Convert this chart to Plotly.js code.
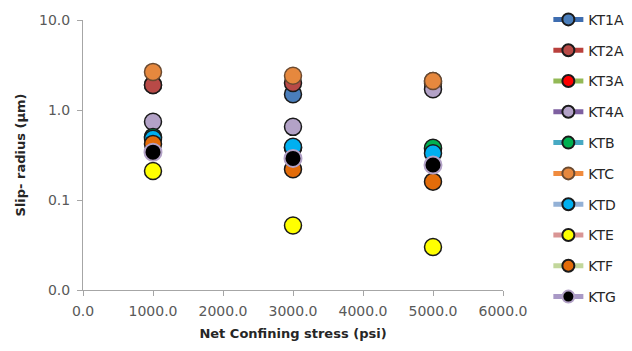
<!DOCTYPE html>
<html>
<head>
<meta charset="utf-8">
<script src="https://cdn.plot.ly/plotly-3.0.1.min.js"></script>
<style>
  html, body { margin: 0; padding: 0; background: #fff; }
  #chart { width: 632px; height: 351px; }
</style>
</head>
<body>
<div id="chart"></div>
<script>
// Net confining stress levels (psi)
const stress = [1000, 3000, 5000];

// Slip radius (µm) per sample at each stress level
const KT1A = [1.9, 1.5, 2.0];
const KT2A = [1.9, 2.0, 2.1];
const KT3A = [0.5, 0.38, 0.37];
const KT4A = [0.74, 0.65, 1.7];
const KTB  = [0.5, 0.38, 0.38];
const KTC  = [2.65, 2.4, 2.1];
const KTD  = [0.48, 0.39, 0.33];
const KTE  = [0.21, 0.052, 0.030];
const KTF  = [0.42, 0.22, 0.16];
const KTG  = [0.34, 0.29, 0.245];

const names = ['KT1A','KT2A','KT3A','KT4A','KTB','KTC','KTD','KTE','KTF','KTG'];
const values = [KT1A, KT2A, KT3A, KT4A, KTB, KTC, KTD, KTE, KTF, KTG];

// Series styling: connecting-line colour, marker fill, marker outline
const lineColors = ['#3E6DB0','#B9403C','#93B956','#7D5FA0','#47A9C3','#F08B3E',
                    '#93B1D6','#D99594','#C2D79B','#A999C6'];
const fillColors = ['#4A7EBB','#B84A47','#FF0000','#B3A2C7','#00B050','#E6883E',
                    '#00B0F0','#FFFF00','#E36C09','#000000'];
const edgeColors = ['#1a1a1a','#1a1a1a','#1a1a1a','#1a1a1a','#1a1a1a','#6b4a30',
                    '#1a1a1a','#1a1a1a','#1a1a1a','#B3A2C7'];

// Points are separated by gaps so no connecting segments are drawn in the plot,
// while the legend still shows the line + marker symbol.
function withGaps(arr) {
  const out = [];
  arr.forEach((v, i) => { if (i) out.push(null); out.push(v); });
  return out;
}

const traces = names.map((n, i) => ({
  type: 'scatter',
  mode: 'lines+markers',
  name: n,
  legendgroup: n,
  x: withGaps(stress),
  y: withGaps(values[i]),
  connectgaps: false,
  line: { color: lineColors[i], width: 3 },
  marker: {
    size: 17,
    color: fillColors[i],
    line: { color: edgeColors[i], width: i === 9 ? 2 : 1.5 }
  },
  hoverinfo: 'x+y+name'
}));

const tickFont = { family: 'DejaVu Sans, sans-serif', size: 14, color: '#595959' };
const titleFont = { family: 'DejaVu Sans, sans-serif', size: 13, color: '#262626', weight: 'bold' };

const layout = {
  width: 632,
  height: 351,
  margin: { l: 83, r: 129, t: 20, b: 61, autoexpand: false },
  paper_bgcolor: '#ffffff',
  plot_bgcolor: '#ffffff',
  showlegend: true,
  legend: {
    x: 1.108, xanchor: 'left',
    y: 1.06, yanchor: 'top',
    maxheight: 351,
    font: { family: 'DejaVu Sans, sans-serif', size: 14, color: '#262626' },
    tracegroupgap: 9.6,
    itemsizing: 'constant',
    bgcolor: 'rgba(0,0,0,0)'
  },
  xaxis: {
    range: [0, 6000],
    tickvals: [0, 1000, 2000, 3000, 4000, 5000, 6000],
    ticktext: ['0.0','1000.0','2000.0','3000.0','4000.0','5000.0','6000.0'],
    ticks: 'outside', ticklen: 5, tickcolor: '#A6A6A6',
    ticklabelstandoff: 3,
    showline: true, linecolor: '#A6A6A6', linewidth: 1,
    showgrid: false, zeroline: false,
    tickfont: tickFont,
    title: { text: 'Net Confining stress (psi)', font: titleFont, standoff: 11 }
  },
  yaxis: {
    type: 'log',
    range: [-2, 1],
    tickvals: [0.01, 0.1, 1, 10],
    ticktext: ['0.0', '0.1', '1.0', '10.0'],
    ticks: 'outside', ticklen: 5, tickcolor: '#A6A6A6',
    ticklabelstandoff: 4,
    showline: true, linecolor: '#A6A6A6', linewidth: 1,
    showgrid: false, zeroline: false,
    tickfont: tickFont,
    title: { text: 'Slip- radius (µm)', font: titleFont, standoff: 10 }
  }
};

Plotly.newPlot('chart', traces, layout, { displayModeBar: false, staticPlot: true });
</script>
</body>
</html>
